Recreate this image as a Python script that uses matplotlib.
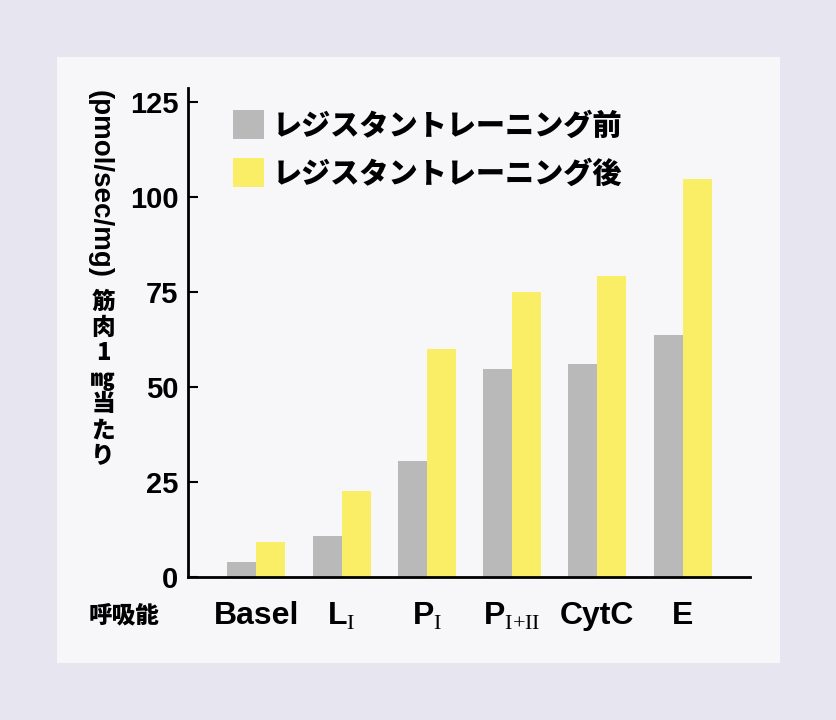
import matplotlib
matplotlib.use("Agg")
import matplotlib.pyplot as plt
import numpy as np
from matplotlib.patches import Rectangle

categories = ["Basel", "L$_{\\mathrm{I}}$", "P$_{\\mathrm{I}}$", "P$_{\\mathrm{I{+}II}}$", "CytC", "E"]
before = [3.9, 10.8, 30.5, 54.7, 56.0, 63.7]
after = [9.2, 22.6, 60.0, 75.0, 79.2, 104.7]
labels = ["レジスタントレーニング前", "レジスタントレーニング後"]
yticks = [0, 25, 50, 75, 100, 125]

jp = "Noto Sans CJK JP"
plt.rcParams["font.family"] = ["Liberation Sans", jp, "DejaVu Sans"]
plt.rcParams["mathtext.fontset"] = "custom"
plt.rcParams["mathtext.rm"] = "Liberation Serif"

gray = "#b8b9b8"
yellow = "#f9ee66"
panel = "#f7f7fa"

fig = plt.figure(figsize=(8.36, 7.2), dpi=100)
fig.patch.set_facecolor("#e7e5ef")
fig.patches.append(Rectangle((57 / 836, 1 - 663 / 720), (780 - 57) / 836, (663 - 57) / 720,
                             transform=fig.transFigure, facecolor=panel, edgecolor="none", zorder=-10))

ax = fig.add_axes([188 / 836, 1 - 577 / 720, (750 - 188) / 836, (577 - 88) / 720])
ax.set_facecolor(panel)

x = np.arange(len(categories))
w = 0.34
ax.bar(x - w / 2, before, w, color=gray, label=labels[0])
ax.bar(x + w / 2, after, w, color=yellow, label=labels[1])

ax.set_xlim(-0.8, 5.79)
ax.set_ylim(0, 128.7)
ax.spines["top"].set_visible(False)
ax.spines["right"].set_visible(False)
ax.spines["left"].set_linewidth(2)
ax.spines["bottom"].set_linewidth(2)

ax.set_yticks(yticks)
ax.set_yticklabels([str(t) for t in yticks], fontsize=21, fontweight="bold")
ax.tick_params(axis="y", direction="in", length=7, width=1.5, pad=7)
ax.set_xticks(x)
ax.set_xticklabels(categories, fontsize=23, fontweight="bold")
ax.tick_params(axis="x", length=0, pad=17)

leg = ax.legend(loc="upper left", bbox_to_anchor=(0.08, 0.955), frameon=False,
                prop={"family": [jp], "weight": "heavy", "size": 21},
                borderpad=0, borderaxespad=0,
                handlelength=1.05, handleheight=1.15, handletextpad=0.3, labelspacing=0.62)

# vertical y label
fig.text(100 / 836, 1 - 184 / 720, "(pmol/sec/mg)", rotation=-90, fontsize=20, fontweight="bold",
         ha="center", va="center")
chars = ["筋", "肉", "1", "㎎", "当", "た", "り"]
ys = [302, 328, 353, 379, 404, 430, 456]
for c, yy in zip(chars, ys):
    fig.text(103 / 836, 1 - yy / 720, c, fontsize=17, fontweight="heavy",
             family=[jp, "DejaVu Sans"], ha="center", va="center")

fig.text(124 / 836, 1 - 615 / 720, "呼吸能", fontsize=17, fontweight="heavy",
         family=[jp], ha="center", va="center")

fig.savefig("out.png", dpi=100, facecolor=fig.get_facecolor())
